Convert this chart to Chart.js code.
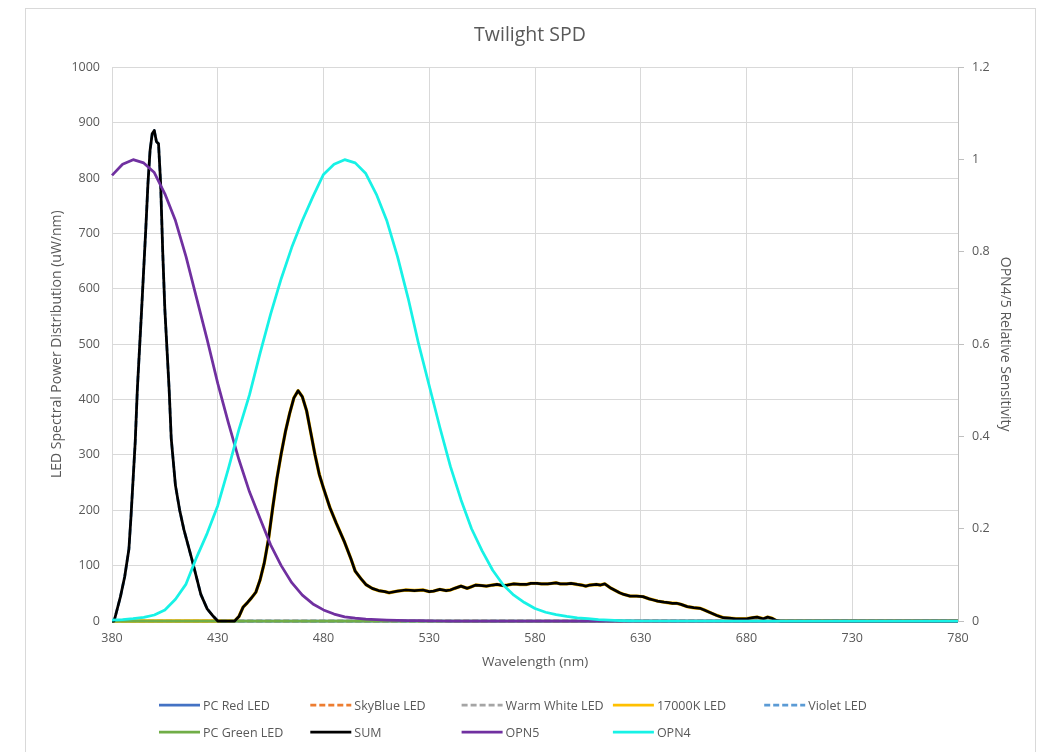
<!DOCTYPE html>
<html>
<head>
<meta charset="utf-8">
<title>Twilight SPD</title>
<script src="https://cdn.jsdelivr.net/npm/chart.js@4.4.1/dist/chart.umd.min.js"></script>
<style>
  body { margin: 0; background: #fff; }
  #wrap { position: relative; width: 1038px; height: 752px; overflow: hidden; }
  #frame { position: absolute; left: 25px; top: 8px; width: 1009px; height: 800px; border: 1px solid #d9d9d9; }
  #chart { position: absolute; left: 0; top: 0; }
</style>
</head>
<body>
<div id="wrap">
  <div id="frame"></div>
  <canvas id="chart" width="1038" height="752"></canvas>
</div>
<script>
// x axis ticks (nm)
const xTicks = [380, 430, 480, 530, 580, 630, 680, 730, 780];

// LEDs that stay at zero over the whole range
const zeroWl = [380, 780];
const zeroVal = [0, 0];

// Violet LED (first peak)
const violetWl = [380, 381, 384, 386, 388, 389, 391, 392, 394, 396, 397, 398, 399, 400, 401, 402, 403, 404, 405, 407, 408, 410, 412, 414, 418, 422, 425, 428, 430, 780];
const violetVal = [0, 0, 44, 80, 130, 190, 325, 420, 562, 710, 790, 850, 880, 886, 866, 862, 790, 665, 562, 420, 330, 245, 200, 165, 108, 48, 22, 8, 0, 0];

// 17000K LED (blue peak + broad phosphor plateau)
const k17Wl = [380, 438, 440, 442, 444, 446, 448, 450, 452, 454, 456, 458, 460, 462, 464, 466, 468, 470, 472, 474, 476, 478, 480, 483, 486, 490, 493, 495, 498, 500, 503, 506, 509, 511, 515, 519, 523, 527, 530, 532, 535, 538, 540, 542, 545, 548, 550, 552, 555, 557, 560, 562, 565, 567, 570, 573, 576, 578, 581, 583, 586, 588, 590, 592, 595, 597, 600, 602, 604, 606, 609, 611, 613, 616, 618, 620, 622, 625, 628, 631, 634, 636, 638, 641, 643, 645, 647, 649, 652, 655, 658, 660, 663, 666, 669, 672, 675, 678, 680, 683, 685, 687, 688, 690, 692, 694, 696, 780];
const k17Val = [0, 0, 8, 25, 33, 42, 52, 74, 105, 148, 205, 258, 302, 342, 375, 403, 416, 405, 380, 340, 300, 265, 240, 205, 177, 142, 112, 90, 75, 66, 59, 55, 53, 51, 54, 56, 55, 56, 53, 54, 57, 55, 56, 59, 63, 59, 62, 65, 64, 63, 65, 66, 64, 65, 67, 66, 66, 68, 68, 67, 67, 68, 69, 67, 67, 68, 66, 65, 63, 65, 66, 65, 67, 59, 55, 51, 48, 45, 45, 44, 40, 38, 36, 34, 33, 32, 32, 30, 26, 24, 23, 20, 15, 10, 6, 5, 4, 4, 4, 6, 7, 5, 4, 7, 5, 1, 0, 0];

// SUM of all LEDs
const sumWl = [380, 381, 384, 386, 388, 389, 391, 392, 394, 396, 397, 398, 399, 400, 401, 402, 403, 404, 405, 407, 408, 410, 412, 414, 418, 422, 425, 428, 430, 438, 440, 442, 444, 446, 448, 450, 452, 454, 456, 458, 460, 462, 464, 466, 468, 470, 472, 474, 476, 478, 480, 483, 486, 490, 493, 495, 498, 500, 503, 506, 509, 511, 515, 519, 523, 527, 530, 532, 535, 538, 540, 542, 545, 548, 550, 552, 555, 557, 560, 562, 565, 567, 570, 573, 576, 578, 581, 583, 586, 588, 590, 592, 595, 597, 600, 602, 604, 606, 609, 611, 613, 616, 618, 620, 622, 625, 628, 631, 634, 636, 638, 641, 643, 645, 647, 649, 652, 655, 658, 660, 663, 666, 669, 672, 675, 678, 680, 683, 685, 687, 688, 690, 692, 694, 696, 780];
const sumVal = [0, 0, 44, 80, 130, 190, 325, 420, 562, 710, 790, 850, 880, 886, 866, 862, 790, 665, 562, 420, 330, 245, 200, 165, 108, 48, 22, 8, 0, 0, 8, 25, 33, 42, 52, 74, 105, 148, 205, 258, 302, 342, 375, 403, 416, 405, 380, 340, 300, 265, 240, 205, 177, 142, 112, 90, 75, 66, 59, 55, 53, 51, 54, 56, 55, 56, 53, 54, 57, 55, 56, 59, 63, 59, 62, 65, 64, 63, 65, 66, 64, 65, 67, 66, 66, 68, 68, 67, 67, 68, 69, 67, 67, 68, 66, 65, 63, 65, 66, 65, 67, 59, 55, 51, 48, 45, 45, 44, 40, 38, 36, 34, 33, 32, 32, 30, 26, 24, 23, 20, 15, 10, 6, 5, 4, 4, 4, 6, 7, 5, 4, 7, 5, 1, 0, 0];

// opsin sensitivity curves (right axis)
const opnWl = [380, 385, 390, 395, 400, 405, 410, 415, 420, 425, 430, 435, 440, 445, 450, 455, 460, 465, 470, 475, 480, 485, 490, 495, 500, 505, 510, 515, 520, 525, 530, 535, 540, 545, 550, 555, 560, 565, 570, 575, 580, 585, 590, 595, 600, 605, 610, 615, 620, 625, 630, 700, 780];
const opn5Val = [0.966, 0.99, 1.0, 0.993, 0.972, 0.926, 0.868, 0.79, 0.70, 0.61, 0.515, 0.43, 0.35, 0.28, 0.222, 0.165, 0.12, 0.083, 0.056, 0.037, 0.024, 0.015, 0.009, 0.006, 0.004, 0.003, 0.002, 0.0015, 0.001, 0.001, 0.0005, 0, 0, 0, 0, 0, 0, 0, 0, 0, 0, 0, 0, 0, 0, 0, 0, 0, 0, 0, 0, 0, 0];
const opn4Val = [0.002, 0.003, 0.005, 0.008, 0.013, 0.024, 0.047, 0.08, 0.138, 0.19, 0.25, 0.33, 0.415, 0.49, 0.58, 0.665, 0.742, 0.81, 0.868, 0.92, 0.968, 0.99, 1.0, 0.993, 0.97, 0.925, 0.867, 0.79, 0.70, 0.60, 0.51, 0.42, 0.335, 0.263, 0.2, 0.152, 0.11, 0.078, 0.056, 0.04, 0.027, 0.019, 0.014, 0.01, 0.007, 0.005, 0.003, 0.002, 0.001, 0.0005, 0, 0, 0];

const FONT = '"Open Sans", "DejaVu Sans", sans-serif';
const TEXT = '#595959';
const GRID = '#d9d9d9';

function pts(wl, vals) {
    return wl.map((x, i) => ({ x: x, y: vals[i] }));
}

// Excel style: later series sit on top, so order counts down
function series(label, wl, vals, color, opts) {
    return Object.assign({
        label: label,
        data: pts(wl, vals),
        borderColor: color,
        backgroundColor: color,
        borderWidth: 2.75,
        pointRadius: 0,
        fill: false,
        tension: 0,
        clip: false,
        borderJoinStyle: 'round',
        yAxisID: 'y'
    }, opts || {});
}

const datasets = [
    series('PC Red LED', zeroWl, zeroVal, '#4472c4', { order: 9 }),
    series('SkyBlue LED', zeroWl, zeroVal, '#ed7d31', { order: 8, borderDash: [6, 3] }),
    series('Warm White LED', zeroWl, zeroVal, '#a5a5a5', { order: 7, borderDash: [6, 3] }),
    series('17000K LED', k17Wl, k17Val, '#ffc000', { order: 6, borderWidth: 3.4 }),
    series('Violet LED', violetWl, violetVal, '#5b9bd5', { order: 5, borderDash: [6, 3] }),
    series('PC Green LED', zeroWl, zeroVal, '#70ad47', { order: 4 }),
    series('SUM', sumWl, sumVal, '#000000', { order: 3 }),
    series('OPN5', opnWl, opn5Val, '#7030a0', { order: 2, yAxisID: 'y1' }),
    series('OPN4', opnWl, opn4Val, '#17f2e6', { order: 1, yAxisID: 'y1' })
];

// legend laid out in a grid like the spreadsheet legend
const gridLegend = {
    id: 'gridLegend',
    afterDraw(chart, args, o) {
        const ctx = chart.ctx;
        ctx.save();
        ctx.font = '12.5px ' + FONT;
        ctx.textBaseline = 'middle';
        chart.data.datasets.forEach((ds, i) => {
            const x = o.left + (i % o.cols) * o.colWidth;
            const y = o.top + Math.floor(i / o.cols) * o.rowHeight;
            ctx.strokeStyle = ds.borderColor;
            ctx.lineWidth = 2.75;
            ctx.setLineDash(ds.borderDash || []);
            ctx.beginPath();
            ctx.moveTo(x, y);
            ctx.lineTo(x + o.lineLen, y);
            ctx.stroke();
            ctx.setLineDash([]);
            ctx.fillStyle = TEXT;
            ctx.fillText(ds.label, x + o.lineLen + 3, y + 1);
        });
        ctx.restore();
    }
};

const ctx = document.getElementById('chart').getContext('2d');
const chart = new Chart(ctx, {
    type: 'line',
    data: { datasets: datasets },
    plugins: [gridLegend],
    options: {
        responsive: false,
        animation: false,
        devicePixelRatio: 1,
        layout: { padding: { left: 32, right: 10, top: 10, bottom: 79 } },
        plugins: {
            legend: { display: false },
            tooltip: { enabled: false },
            title: {
                display: true,
                text: 'Twilight SPD',
                color: TEXT,
                font: { family: FONT, size: 19.5, weight: 'normal' },
                padding: { top: 14, bottom: 20 }
            },
            gridLegend: { left: 159, top: 705, cols: 5, colWidth: 151.3, rowHeight: 27, lineLen: 41 }
        },
        scales: {
            x: {
                type: 'linear',
                min: 380,
                max: 780,
                afterBuildTicks: s => { s.ticks = xTicks.map(v => ({ value: v })); },
                afterFit: s => { s.height = 52; },
                grid: { color: GRID, lineWidth: 1, drawTicks: false },
                border: { display: false },
                ticks: { color: TEXT, padding: 10, font: { family: FONT, size: 12.5 }, callback: v => String(v), maxRotation: 0 },
                title: { display: true, text: 'Wavelength (nm)', color: TEXT, font: { family: FONT, size: 13.5 }, padding: { top: 4, bottom: 3 } }
            },
            y: {
                position: 'left',
                min: 0,
                max: 1000,
                afterFit: s => { s.width = 80; },
                grid: { color: GRID, lineWidth: 1, drawTicks: false },
                border: { display: false },
                ticks: { stepSize: 100, color: TEXT, padding: 12, font: { family: FONT, size: 12.5 }, callback: v => String(v) },
                title: { display: true, text: 'LED Spectral Power Distribution (uW/nm)', color: TEXT, font: { family: FONT, size: 14 }, padding: { top: 16.5, bottom: 0 } }
            },
            y1: {
                position: 'right',
                min: 0,
                max: 1.2,
                afterFit: s => { s.width = 70; },
                grid: { drawOnChartArea: false, drawTicks: true, tickLength: 6, color: '#bfbfbf' },
                border: { display: true, color: '#bfbfbf', width: 1 },
                ticks: { stepSize: 0.2, color: TEXT, padding: 8, font: { family: FONT, size: 12.5 }, callback: v => String(+v.toFixed(1)) },
                title: { display: true, text: 'OPN4/5 Relative Sensitivity', color: TEXT, font: { family: FONT, size: 14 }, padding: { top: 14.5, bottom: 0 } }
            }
        }
    }
});
</script>
</body>
</html>
